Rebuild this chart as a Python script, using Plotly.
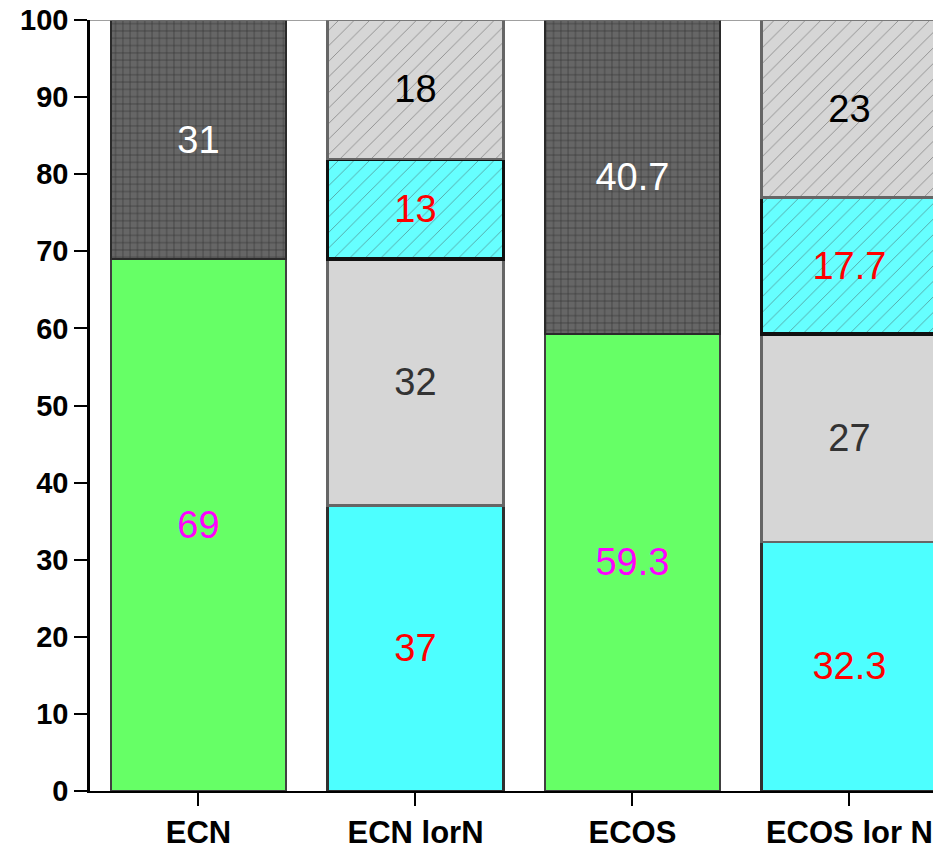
import plotly.graph_objects as go

categories = ["ECN", "ECN lorN", "ECOS", "ECOS lor N"]
green_vals = [69, None, 59.3, None]
cyan_vals = [None, 37, None, 32.3]
dark_vals = [31, None, 40.7, None]
grey_vals = [None, 32, None, 27]
cyan_hatch_vals = [None, 13, None, 17.7]
grey_hatch_vals = [None, 18, None, 23]
y_ticks = [0, 10, 20, 30, 40, 50, 60, 70, 80, 90, 100]

LABEL_SIZE = 38
FONT = "Liberation Sans, Arial, sans-serif"


def labels(vals):
    return [("" if v is None else f"{v:g}") for v in vals]


def bar(vals, color, text_color, line_color, line_width, pattern=None):
    marker = dict(color=color, line=dict(color=line_color, width=line_width))
    if pattern:
        marker["pattern"] = pattern
    return go.Bar(
        x=categories, y=vals, marker=marker,
        text=labels(vals), textposition="inside", insidetextanchor="middle",
        textfont=dict(color=text_color, size=LABEL_SIZE, family=FONT),
        constraintext="none", showlegend=False, hoverinfo="skip",
    )


fig = go.Figure()
fig.add_trace(bar(green_vals, "#66FF66", "#FF00FF", "#404040", 2))
fig.add_trace(bar(cyan_vals, "#4DFFFF", "#FF0000", "#303030", 2.5))
fig.add_trace(bar(dark_vals, "#666666", "#FFFFFF", "#2a2a2a", 2,
                  dict(shape="+", fgcolor="#000000", bgcolor="#666666", size=7.3, solidity=0.15)))
fig.add_trace(bar(grey_vals, "#D6D6D6", "#333333", "#666666", 2.5))
fig.add_trace(bar(cyan_hatch_vals, "#66FFFF", "#FF0000", "#111111", 3.5,
                  dict(shape="/", fgcolor="#404040", bgcolor="#66FFFF", size=11, solidity=0.08)))
fig.add_trace(bar(grey_hatch_vals, "#D6D6D6", "#000000", "#666666", 2.5,
                  dict(shape="/", fgcolor="#404040", bgcolor="#D6D6D6", size=11, solidity=0.08)))

fig.update_layout(
    width=933, height=852,
    margin=dict(l=90, r=0, t=20, b=61, autoexpand=False),
    barmode="stack", bargap=0.19,
    plot_bgcolor="white", paper_bgcolor="white",
    font=dict(family=FONT, color="black"),
    xaxis=dict(
        range=[-0.5, 3.385], showgrid=False, zeroline=False, automargin=False,
        showline=True, linecolor="black", linewidth=2,
        ticks="outside", ticklen=13, tickwidth=2, tickcolor="black",
        ticklabeloverflow="allow",
        tickfont=dict(size=31, family=FONT, color="black", weight="bold"),
    ),
    yaxis=dict(
        range=[0, 100], tickvals=y_ticks, showgrid=False, zeroline=False, automargin=False,
        showline=True, linecolor="black", linewidth=2.5,
        ticks="outside", ticklen=13, tickwidth=2, tickcolor="black",
        ticklabeloverflow="allow",
        tickfont=dict(size=29, family=FONT, color="black", weight="bold"),
    ),
    shapes=[dict(type="line", xref="paper", yref="y", x0=0, x1=1, y0=100, y1=100,
                 line=dict(color="#808080", width=1.5), layer="above")],
)

fig.write_html(
    "out.html",
    config={"displayModeBar": False},
    post_script="document.body.style.margin='0';document.body.style.overflow='hidden';",
)
